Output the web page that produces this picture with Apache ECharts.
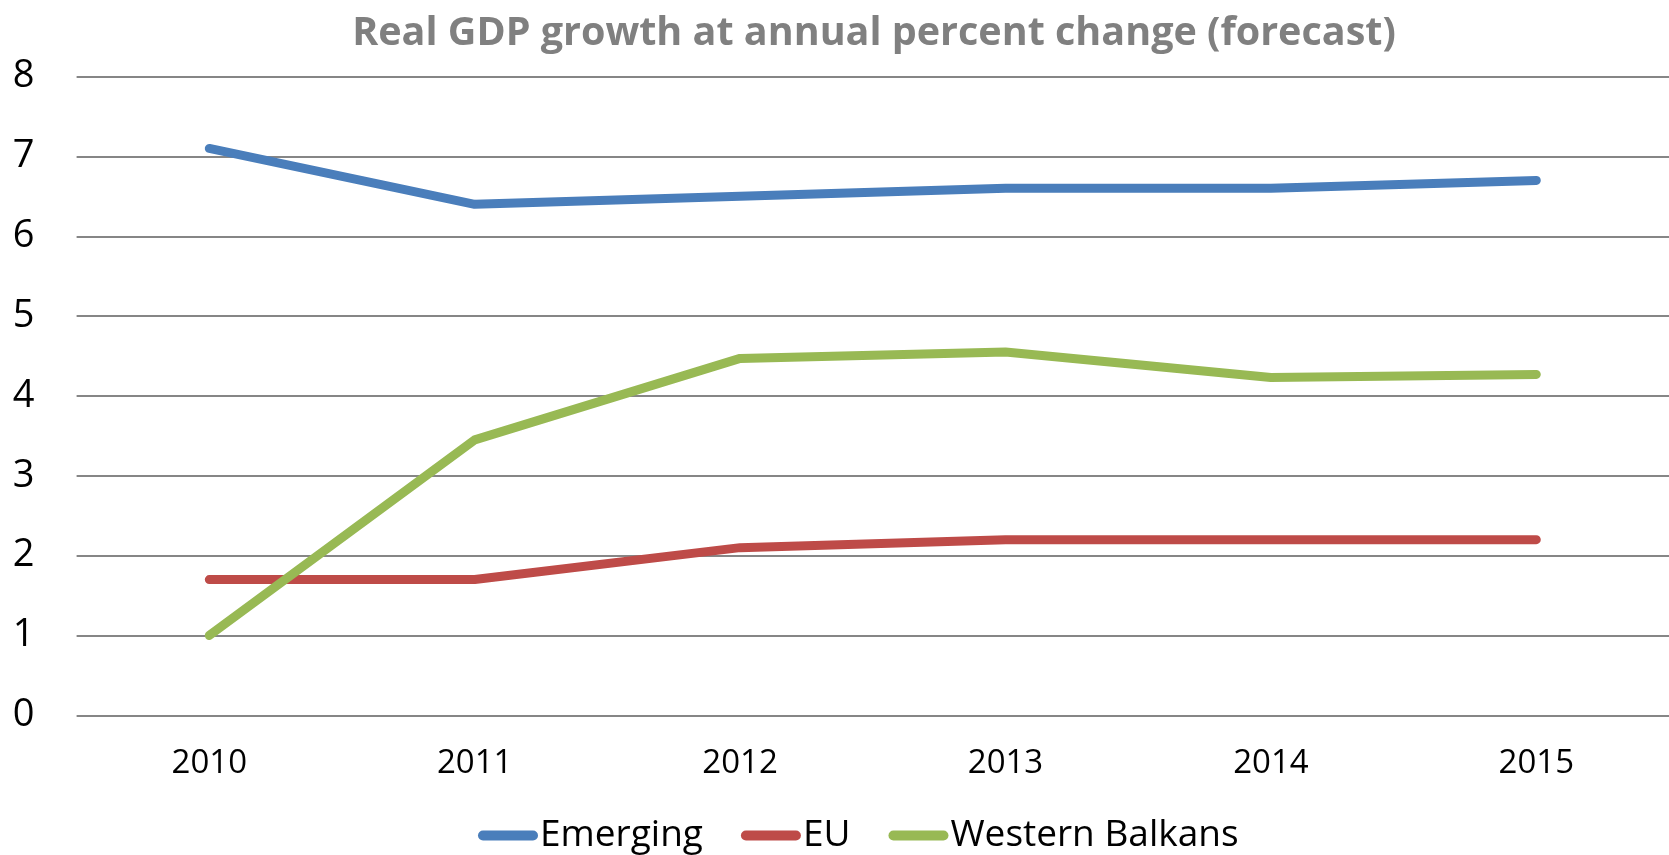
<!DOCTYPE html>
<html><head><meta charset="utf-8">
<script src="https://cdn.jsdelivr.net/npm/echarts@6/dist/echarts.min.js"></script>
<style>html,body{margin:0;padding:0;background:#fff}#c{width:1669px;height:855px}</style>
</head><body><div id="c"></div>
<script>
const categories = ['2010','2011','2012','2013','2014','2015'];
const emerging = [7.1, 6.4, 6.5, 6.6, 6.6, 6.7];
const eu = [1.7, 1.7, 2.1, 2.2, 2.2, 2.2];
const westernBalkans = [1.0, 3.45, 4.47, 4.55, 4.23, 4.27];
const yTicks = [0,1,2,3,4,5,6,7,8];

const FONT = '"Open Sans", sans-serif';
const chart = echarts.init(document.getElementById('c'));
const cap = 'path://M5,0 H55 A5,5 0 0 1 55,10 H5 A5,5 0 0 1 5,0 Z';
function ser(name, data, color){
  return {name, type:'line', data, symbol:'none', lineStyle:{width:9,color,cap:'round',join:'round'}, itemStyle:{color}, animation:false};
}
chart.setOption({
  animation:false,
  backgroundColor:'#fff',
  title:{text:'Real GDP growth at annual percent change (forecast)', left:869, top:9, textAlign:'center',
    textStyle:{fontFamily:FONT, fontWeight:'bold', fontSize:39.5, color:'#808080'}},
  legend:{bottom:-4, left:473, itemGap:38, itemWidth:60, itemHeight:11, icon:cap,
    textStyle:{fontFamily:FONT, fontSize:37, color:'#000', padding:[0,0,0,-3]},
    data:['Emerging','EU','Western Balkans']},
  grid:{left:76.6, right:-13, top:76.6, bottom:139.7},
  xAxis:{type:'category', data:categories, boundaryGap:true,
    axisLine:{show:false}, axisTick:{show:false},
    axisLabel:{fontFamily:FONT, fontSize:33, color:'#000', margin:32}},
  yAxis:{type:'value', min:0, max:8, interval:1,
    axisLine:{show:false}, axisTick:{show:false},
    axisLabel:{fontFamily:FONT, fontSize:38, color:'#000', margin:42, formatter:v=>yTicks.includes(v)?String(v):''},
    splitLine:{lineStyle:{color:'#868686', width:2}}},
  series:[ser('Emerging', emerging, '#4A7EBB'), ser('EU', eu, '#BE4B48'), ser('Western Balkans', westernBalkans, '#98B954')]
});
</script></body></html>
